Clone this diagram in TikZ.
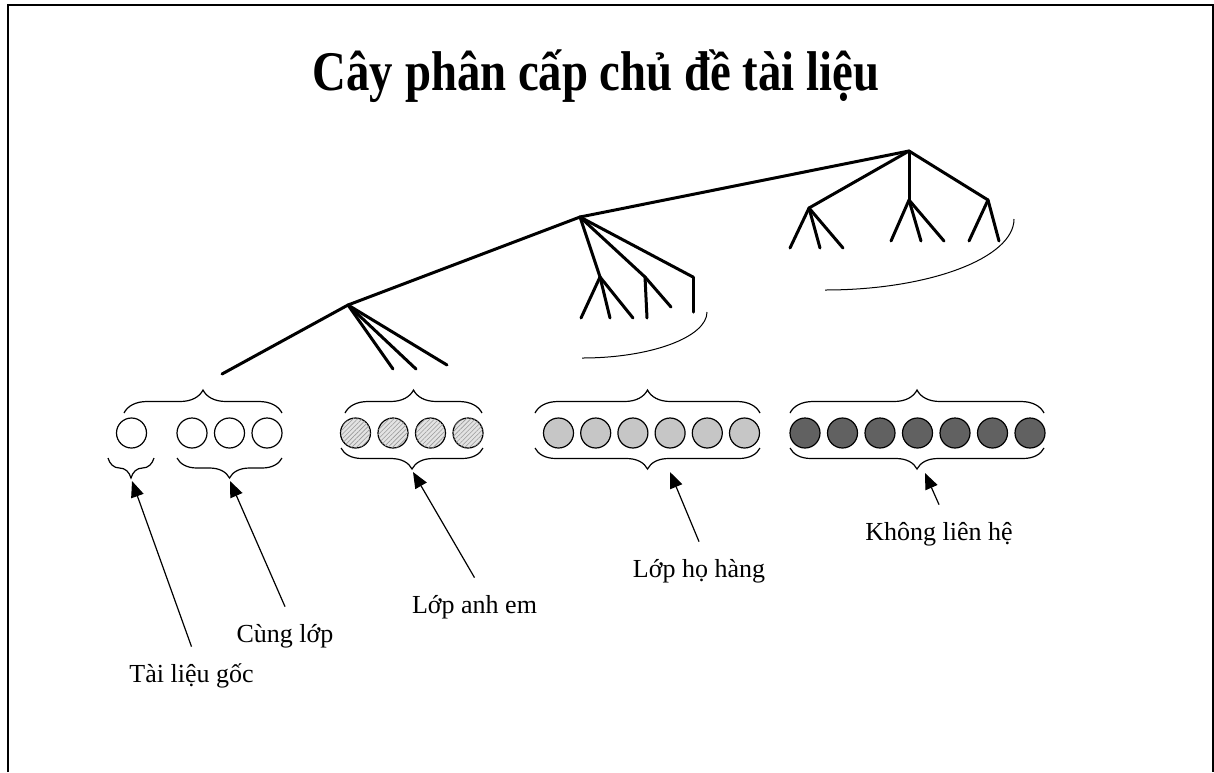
\documentclass[tikz,border=0pt]{standalone}
\usepackage{fontspec}
\setmainfont{Liberation Serif}
\usepackage{graphicx}
\usetikzlibrary{arrows.meta, decorations.pathreplacing, patterns.meta}

\begin{document}
\begin{tikzpicture}[x=0.5pt, y=-0.5pt,
    branch/.style={line width=1.5pt, line cap=round, line join=round},
    sweep/.style={line width=0.5pt},
    doc/.style={circle, draw, line width=0.6pt, minimum size=15pt, inner sep=0pt},
    hatched/.style={fill=gray!22, postaction={pattern={Lines[angle=45, distance=1.6pt, line width=0.3pt]}, pattern color=gray!80}},
    grouptop/.style={decorate, decoration={brace, amplitude=11.5pt}, line width=0.6pt},
    groupbot/.style={decorate, decoration={brace, mirror, amplitude=10.5pt}, line width=0.6pt},
    ptr/.style={-{Triangle[length=8pt, width=6.5pt]}, line width=0.6pt},
    lbl/.style={font=\fontsize{13}{15}\selectfont, inner sep=0pt, text height=10pt, text depth=3pt, anchor=base}]
  \useasboundingbox (0,0) rectangle (1214,772);
  \draw[line width=1pt] (7.7,772) -- (7.7,5) -- (1213,5) -- (1213,772);
  \node[anchor=base, inner sep=0pt, font=\bfseries\fontsize{28}{32}\selectfont] (heading) at (596,90)
    {\scalebox{0.835}[1]{Cây phân cấp chủ đề tài liệu}};

  % topic tree
  \coordinate (stem) at (222,374);
  \coordinate (a) at (348,305);
  \coordinate (b) at (580,217);
  \coordinate (root) at (909,151);
  \draw[branch] (stem) -- (a) -- (b) -- (root);
  \foreach \from/\to/\p in {a/a1/{393,369}, a/a2/{416,369}, a/a3/{447,365},
      b/c1/{600,277}, b/c2/{645,277}, b/c3/{693,277},
      c1/c11/{581,318}, c1/c12/{610,318}, c1/c13/{633,318},
      c2/c21/{647,318}, c2/c22/{671,307}, c3/c31/{693,312},
      root/d1/{809,208}, root/d2/{909,200}, root/d3/{988,200},
      d1/d11/{790,248}, d1/d12/{820,248}, d1/d13/{843,248},
      d2/d21/{891,241}, d2/d22/{921,241}, d2/d23/{944,241},
      d3/d31/{969,241}, d3/d32/{999,241}}{
    \coordinate (\to) at (\p);
    \draw[branch] (\from) -- (\to);
  }
  \draw[sweep] (582,358) .. controls (651,358) and (707,337) .. (707,312);
  \draw[sweep] (825,290) .. controls (929,290) and (1014,258) .. (1014,219);

  % documents
  \node[doc] (own) at (131.5,433) {};
  \foreach \i/\x in {1/192, 2/229.5, 3/267}
    \node[doc] (same\i) at (\x,433) {};
  \foreach \i in {1,...,4}
    \node[doc, hatched] (sib\i) at ({355.5+37.5*(\i-1)},433) {};
  \foreach \i in {1,...,6}
    \node[doc, fill=gray!45] (kin\i) at ({558.5+37.2*(\i-1)},433) {};
  \foreach \i in {1,...,7}
    \node[doc, fill=black!62] (far\i) at ({805+37.5*(\i-1)},433) {};

  \draw[grouptop] (124,413) -- (282,413);
  \draw[grouptop] (345,413) -- (482,413);
  \draw[grouptop] (535,413) -- (760,413);
  \draw[grouptop] (790,413) -- (1044,413);
  \draw[groupbot, decoration={amplitude=10pt}] (108,458) -- (154,458);
  \draw[groupbot, decoration={amplitude=10pt}] (177,458) -- (282,458);
  \draw[groupbot] (341,448) -- (483,448);
  \draw[groupbot] (535,448) -- (760,448);
  \draw[groupbot] (790,448) -- (1044,448);

  \coordinate (tipown) at (132,481);
  \coordinate (tipsame) at (230,481);
  \coordinate (tipsib) at (413,472);
  \coordinate (tipkin) at (670,472);
  \coordinate (tipfar) at (925,473);

  \node[lbl] (origin) at (191.5,682) {Tài liệu gốc};
  \node[lbl] (peer) at (285,642) {Cùng lớp};
  \node[lbl] (sibling) at (474.5,613) {Lớp anh em};
  \node[lbl] (kindred) at (699,577) {Lớp họ hàng};
  \node[lbl] (unrelated) at (939,540) {Không liên hệ};
  \draw[ptr] ([yshift=7.5pt]origin.north) -- (tipown);
  \draw[ptr] ([yshift=7.5pt]peer.north) -- (tipsame);
  \draw[ptr] ([yshift=7.5pt]sibling.north) -- (tipsib);
  \draw[ptr] ([yshift=7.5pt]kindred.north) -- (tipkin);
  \draw[ptr] ([yshift=7.5pt]unrelated.north) -- (tipfar);
\end{tikzpicture}
\end{document}
